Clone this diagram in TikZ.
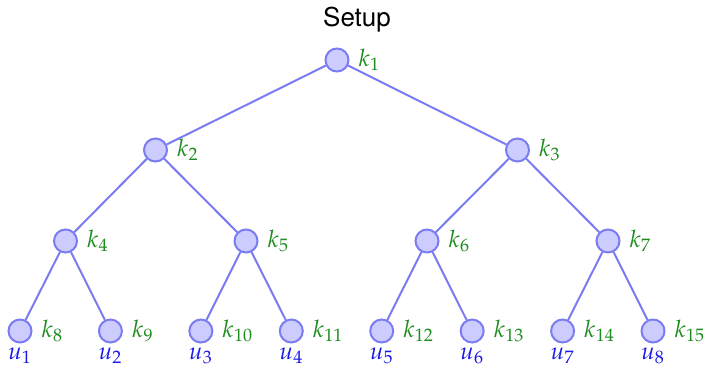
\documentclass[tikz,border=0pt]{standalone}
\usepackage{mathpazo}
\usepackage[no-math]{fontspec}
\newfontfamily\titlefont{TeX Gyre Heros}
\usetikzlibrary{calc}
\definecolor{vfill}{HTML}{CCCCFF}
\definecolor{vline}{HTML}{7B7BF2}
\definecolor{kgreen}{HTML}{1E8C1E}
\definecolor{ublue}{HTML}{1A1AE6}

\tikzset{
  vtx/.style={circle, draw=vline, fill=vfill, line width=1pt,
    minimum size=11.5pt, inner sep=0pt},
  klab/.style={label={[kgreen, label distance=1pt]right:$k_{#1}$}},
  ulab/.style={label={[ublue, inner sep=0.5pt, label distance=1.5pt]below:$u_{#1}$}},
  treeedge/.style={draw=vline, line width=1pt}
}

\begin{document}
\begin{tikzpicture}[x=0.5pt, y=-0.5pt, font=\fontsize{12}{14}\selectfont]
  \useasboundingbox (0,0) rectangle (706,370);

  \node[font=\titlefont\fontsize{13}{15}\selectfont] (title) at (357,20) {Setup};

  % inner nodes of the key tree
  \node[vtx, klab=1] (k1) at (337,60) {};
  \node[vtx, klab=2] (k2) at (155.5,150) {};
  \node[vtx, klab=3] (k3) at (517.5,150) {};
  \node[vtx, klab=4] (k4) at (65.5,241) {};
  \node[vtx, klab=5] (k5) at (246,241) {};
  \node[vtx, klab=6] (k6) at (427,241) {};
  \node[vtx, klab=7] (k7) at (608,241) {};

  % leaves: one per user
  \foreach \i [evaluate=\i as \k using int(\i+7),
               evaluate=\i as \xx using 20+90.43*(\i-1)] in {1,...,8}
    \node[vtx, klab=\k, ulab=\i] (k\k) at (\xx,331) {};

  % edges parent -> children
  \foreach \p/\a/\b in {1/2/3, 2/4/5, 3/6/7, 4/8/9, 5/10/11, 6/12/13, 7/14/15} {
    \draw[treeedge] (k\p) -- (k\a);
    \draw[treeedge] (k\p) -- (k\b);
  }
\end{tikzpicture}
\end{document}
